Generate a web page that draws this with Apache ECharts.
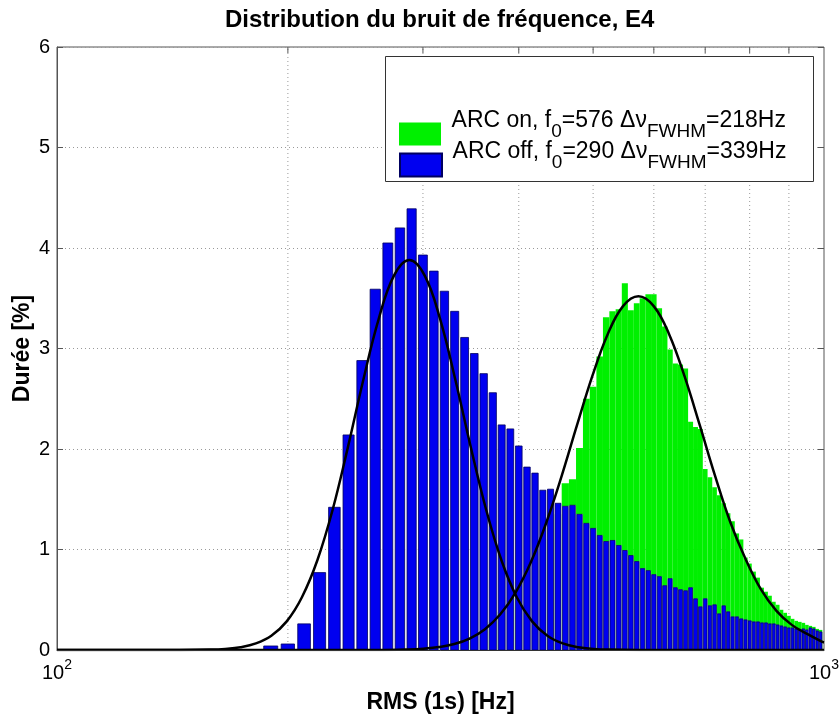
<!DOCTYPE html>
<html>
<head>
<meta charset="utf-8">
<script src="https://cdn.jsdelivr.net/npm/echarts@6/dist/echarts.min.js"></script>
<style>html,body{margin:0;padding:0;background:#fff}#c{width:840px;height:722px}</style>
</head>
<body>
<div id="c"></div>
<script>
// ---------- data ----------
const titleText = 'Distribution du bruit de fréquence, E4';
const xAxisName = 'RMS (1s) [Hz]';
const yAxisName = 'Durée [%]';

const seriesNames = ['ARC on', 'ARC off'];
const f0Values = [576, 290];
const fwhmValues = [218, 339];

const binWidth = 10;      // Hz, histogram bin width
const barFraction = 0.8;  // bar width relative to bin

// ARC off (blue) histogram: bin centres [Hz] and duration [%]
const blueBins = [190,200,210,220,230,240,250,260,270,280,290,300,310,320,330,340,350,360,370,380,
  390,400,410,420,430,440,450,460,470,480,490,500,510,520,530,540,550,560,570,580,
  590,600,610,620,630,640,650,660,670,680,690,700,710,720,730,740,750,760,770,780,
  790,800,810,820,830,840,850,860,870,880,890,900,910,920,930,940,950,960,970,980,990];
const blueValues = [0.04,0.06,0.26,0.77,1.42,2.14,2.88,3.59,4.05,4.20,4.39,3.93,3.77,3.57,3.37,3.11,2.95,2.75,2.56,2.24,
  2.20,2.03,1.82,1.76,1.59,1.60,1.46,1.43,1.44,1.35,1.26,1.21,1.14,1.08,1.09,1.04,0.99,0.94,0.88,0.81,
  0.79,0.75,0.73,0.64,0.71,0.62,0.60,0.59,0.62,0.51,0.43,0.51,0.44,0.45,0.36,0.44,0.38,0.33,0.33,0.31,
  0.30,0.29,0.28,0.28,0.27,0.27,0.26,0.26,0.25,0.24,0.23,0.22,0.22,0.21,0.20,0.21,0.20,0.22,0.21,0.19,0.18];

// ARC on (green) histogram
const greenBins = [300,310,320,330,340,350,360,370,380,390,400,410,420,430,440,450,460,470,480,490,
  500,510,520,530,540,550,560,570,580,590,600,610,620,630,640,650,660,670,680,690,
  700,710,720,730,740,750,760,770,780,790,800,810,820,830,840,850,860,870,880,890,
  900,910,920,930,940,950,960,970,980,990];
const greenValues = [0.01,0.02,0.03,0.05,0.08,0.13,0.19,0.28,0.38,0.52,0.68,0.84,0.98,1.10,1.24,1.35,1.66,1.70,2.01,2.50,
  2.62,2.92,3.31,3.37,3.39,3.65,3.38,3.45,3.50,3.54,3.54,3.40,3.22,2.99,2.85,2.84,2.80,2.27,2.22,2.20,
  1.80,1.72,1.62,1.54,1.46,1.36,1.28,1.16,1.10,0.92,0.86,0.78,0.72,0.62,0.58,0.54,0.48,0.45,0.40,0.37,
  0.34,0.31,0.29,0.28,0.27,0.25,0.24,0.23,0.21,0.20];

// fitted curves
const blueFitX = [100,130,144.3,158.3,165.7,173.5,181.7,190.3,199.3,208.6,218.5,228.8,239.5,250.8,262.7,275.0,288.0,
  301.6,315.8,330.7,346.3,362.6,379.7,397.6,416.3,435.9,456.4,478.0,500.5,524.1,574.6,700,1000];
const blueFitY = [0,0,0.0003,0.0039,0.0109,0.0278,0.0655,0.142,0.285,0.525,0.893,1.398,2.019,2.687,3.295,3.725,3.88,
  3.725,3.295,2.687,2.019,1.398,0.893,0.525,0.285,0.142,0.0655,0.0278,0.0109,0.0039,0.0003,0,0];
const greenFitX = [100,200,261.8,287.1,300.6,314.8,329.6,345.1,361.4,378.4,396.3,415.0,434.5,455.0,476.4,498.9,522.4,547.0,
  572.8,599.8,628.1,657.7,688.7,721.1,755.1,790.7,827.9,867.0,907.8,950.6,995.4,1000];
const greenFitY = [0,0,0.0003,0.006,0.0136,0.0293,0.0594,0.114,0.207,0.355,0.574,0.878,1.269,1.733,2.237,2.727,3.143,3.422,
  3.52,3.422,3.143,2.727,2.237,1.733,1.269,0.90,0.60,0.39,0.25,0.16,0.08,0.075];

// axes
const xMin = 100, xMax = 1000;
const yMin = 0, yMax = 6, yInterval = 1;
const minorGrid = [200,300,400,500,600,700,800,900];

// ---------- styles ----------
const FONT = "'Liberation Sans', Arial, Helvetica, sans-serif";
const GREEN = '#00f000';
const BLUE = '#0000f0';
const BLUE_EDGE = '#000060';

const legendText = {};
seriesNames.forEach((n, i) => {
  legendText[n] = '{e| }{m|' + n + ', f}{s|0}{m|=' + f0Values[i] + ' \u0394\u03bd}{s|FWHM}{m|=' + fwhmValues[i] + 'Hz}';
});

function rectBetween(api, x0, x1, v) {
  const a = api.coord([x0, 0]);
  const b = api.coord([x1, v]);
  return {x: a[0], y: b[1], width: b[0] - a[0], height: a[1] - b[1]};
}

function legendFor(name, top) {
  return {
    data: [name], orient: 'vertical', left: 399, top: top, padding: 0,
    itemWidth: 42, itemHeight: 23, itemGap: 0, icon: 'rect', z: 20, selectedMode: false,
    formatter: n => legendText[n],
    textStyle: {
      rich: {
        e: {fontFamily: FONT, fontSize: 20, lineHeight: 50, verticalAlign: 'top', color: '#000'},
        m: {fontFamily: FONT, fontSize: 23, lineHeight: 25, verticalAlign: 'top', color: '#000'},
        s: {fontFamily: FONT, fontSize: 19, lineHeight: 16, verticalAlign: 'top', padding: [13, 0, 0, 0], color: '#000'}
      }
    }
  };
}

const chart = echarts.init(document.getElementById('c'), null, {renderer: 'canvas'});

const option = {
  animation: false,
  backgroundColor: '#fff',
  title: {
    text: titleText, left: 225, top: 8, padding: 0,
    textStyle: {fontFamily: FONT, fontSize: 24, fontWeight: 'bold', color: '#000'}
  },
  grid: {
    left: 57, right: 16, top: 47, bottom: 72,
    show: true, borderColor: '#555', borderWidth: 1, backgroundColor: 'transparent',
    containLabel: false, outerBoundsMode: 'none'
  },
  graphic: [{
    type: 'rect', left: 385, top: 56, z: 10, silent: true,
    shape: {width: 428, height: 125},
    style: {fill: '#fff', stroke: '#333', lineWidth: 1}
  }],
  legend: [legendFor(seriesNames[0], 109), legendFor(seriesNames[1], 140)],
  xAxis: {
    type: 'log', logBase: 10, min: xMin, max: xMax, z: 5,
    name: xAxisName, nameLocation: 'middle', nameGap: 41,
    nameTextStyle: {fontFamily: FONT, fontSize: 23, fontWeight: 'bold', color: '#000'},
    axisLine: {show: true, lineStyle: {color: '#333', width: 1}},
    axisTick: {show: false},
    splitLine: {show: false},
    axisLabel: {
      margin: 8, color: '#000',
      formatter: v => '{b|10}{s|' + Math.round(Math.log10(v)) + '}',
      rich: {
        b: {fontFamily: FONT, fontSize: 20, lineHeight: 20, padding: [5, 0, 0, 0], verticalAlign: 'top', color: '#000'},
        s: {fontFamily: FONT, fontSize: 14, lineHeight: 14, verticalAlign: 'top', color: '#000'}
      }
    }
  },
  yAxis: [{
    type: 'value', min: yMin, max: yMax, interval: yInterval,
    name: yAxisName, nameLocation: 'middle', nameGap: 23, nameMoveOverlap: false,
    nameTextStyle: {fontFamily: FONT, fontSize: 23, fontWeight: 'bold', color: '#000'},
    axisLine: {show: true, lineStyle: {color: '#555'}},
    axisTick: {show: true, inside: true, length: 6, lineStyle: {color: '#555'}},
    axisLabel: {margin: 7, fontFamily: FONT, fontSize: 20, color: '#000'},
    splitLine: {show: true, lineStyle: {color: '#999', width: 1, type: [1, 3]}}
  }, {
    type: 'value', position: 'right', min: yMin, max: yMax, interval: yInterval,
    axisLine: {show: false},
    axisTick: {show: true, inside: true, length: 6, lineStyle: {color: '#555'}},
    axisLabel: {show: false},
    splitLine: {show: false}
  }],
  series: [
    {
      type: 'custom', name: '_grid', silent: true, z: 1,
      data: minorGrid.map(v => [v, yMin]),
      encode: {x: 0, y: 1},
      renderItem: (params, api) => {
        const v = api.value(0);
        const b = api.coord([v, yMin]);
        const t = api.coord([v, yMax]);
        return {type: 'group', children: [
          {type: 'line', shape: {x1: b[0], y1: b[1], x2: t[0], y2: t[1]}, style: {stroke: '#999', lineWidth: 1, lineDash: [1, 3]}},
          {type: 'line', shape: {x1: t[0], y1: t[1], x2: t[0], y2: t[1] + 6}, style: {stroke: '#555', lineWidth: 1}},
          {type: 'line', shape: {x1: b[0], y1: b[1], x2: b[0], y2: b[1] - 6}, style: {stroke: '#555', lineWidth: 1}}
        ]};
      }
    },
    {
      type: 'custom', name: seriesNames[0], z: 2,
      itemStyle: {color: GREEN},
      data: greenBins.map((c, i) => [c, greenValues[i]]),
      encode: {x: 0, y: 1},
      renderItem: (params, api) => {
        const c = api.value(0), v = api.value(1);
        return {type: 'rect', shape: rectBetween(api, c - binWidth / 2, c + binWidth / 2, v), style: {fill: GREEN}};
      }
    },
    {
      type: 'custom', name: seriesNames[1], z: 2,
      itemStyle: {color: BLUE, borderColor: BLUE_EDGE, borderWidth: 1},
      data: blueBins.map((c, i) => [c, blueValues[i]]),
      encode: {x: 0, y: 1},
      renderItem: (params, api) => {
        const c = api.value(0), v = api.value(1);
        const hw = binWidth * barFraction / 2;
        return {type: 'group', children: [
          {type: 'rect', shape: rectBetween(api, c - binWidth / 2, c + binWidth / 2, v), style: {fill: '#fff'}},
          {type: 'rect', shape: rectBetween(api, c - hw, c + hw, v), style: {fill: BLUE, stroke: BLUE_EDGE, lineWidth: 0.8}}
        ]};
      }
    },
    {
      type: 'line', name: '_fitOn', z: 3, silent: true, showSymbol: false, symbol: 'none', smooth: 0.4,
      lineStyle: {color: '#000', width: 2.5},
      data: greenFitX.map((x, i) => [x, greenFitY[i]])
    },
    {
      type: 'line', name: '_fitOff', z: 3, silent: true, showSymbol: false, symbol: 'none', smooth: 0.4,
      lineStyle: {color: '#000', width: 2.5},
      data: blueFitX.map((x, i) => [x, blueFitY[i]])
    }
  ]
};

chart.setOption(option);
</script>
</body>
</html>
